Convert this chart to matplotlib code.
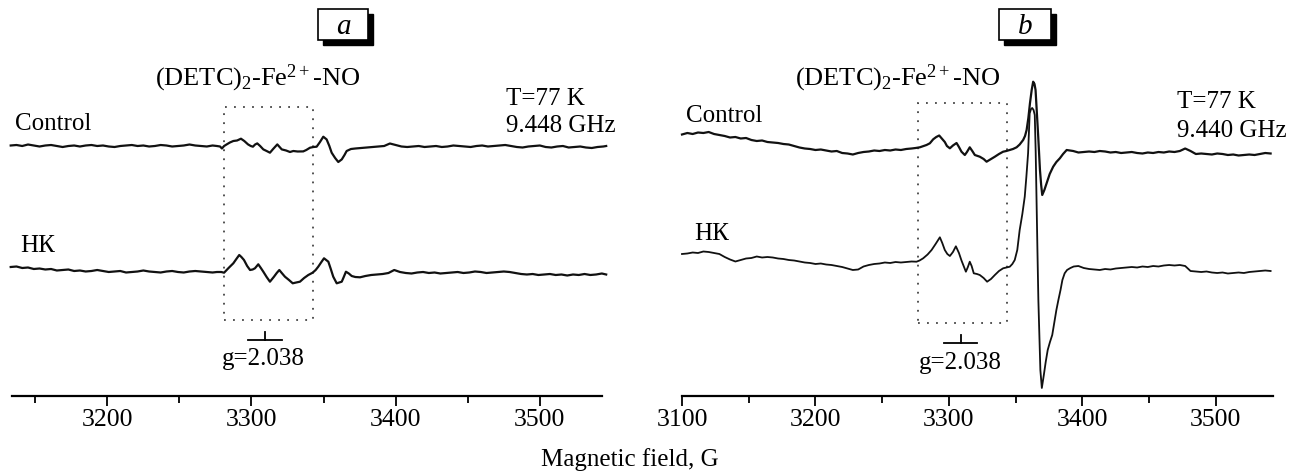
import matplotlib
matplotlib.use("Agg")
import matplotlib.pyplot as plt
from matplotlib.patches import Rectangle
from matplotlib.ticker import MultipleLocator
import numpy as np

plt.rcParams["font.family"] = ["Liberation Serif", "DejaVu Serif"]
plt.rcParams["mathtext.fontset"] = "custom"
plt.rcParams["mathtext.rm"] = "Liberation Serif"
plt.rcParams["mathtext.it"] = "Liberation Serif:italic"

# ---- digitised EPR spectra (field in G, signal in arbitrary units) ----
# panel a, control
ctrl_a_B = [3133, 3137, 3141, 3145, 3149, 3153, 3157, 3161, 3165, 3169, 3173, 3177, 3181, 3185,
            3189, 3193, 3197, 3201, 3205, 3209, 3213, 3217, 3221, 3225, 3229, 3233, 3237, 3241,
            3245, 3249, 3253, 3257, 3261, 3265, 3269, 3273, 3276,
            3278.2, 3279.5, 3281, 3282.8, 3285, 3287.4, 3290, 3292.7, 3295, 3297.6, 3299.5, 3301,
            3302.5, 3304, 3306, 3308.2, 3310.5, 3312.8, 3315, 3317.9, 3319.5, 3321, 3324, 3326.7,
            3329, 3332, 3335.9, 3338, 3340.6, 3343, 3345.2, 3347.5, 3349.8, 3352.1, 3354, 3355.6,
            3358, 3360.2, 3362.6, 3364.5, 3366, 3369, 3372,
            3376, 3380, 3384, 3388, 3392, 3396, 3400, 3404, 3408, 3412, 3416, 3420, 3424, 3428,
            3432, 3436, 3440, 3444, 3448, 3452, 3456, 3460, 3464, 3468, 3472, 3476, 3480, 3484,
            3488, 3492, 3496, 3500, 3504, 3508, 3512, 3516, 3520, 3524, 3528, 3532, 3536, 3540,
            3544, 3546]
ctrl_a_S = [0.5, 1, 0, 1.5, 0.5, -0.5, 0.5, 1, 0, -1, 0, 0.5, -0.5, 0.5,
            1, 0, 0.5, -0.5, -1, 0, 0.5, 1, 0, 0.5, -0.5, 0, 1, 0.5,
            -0.5, 0, 0.5, 1.5, 0.5, 0, -0.5, 0.5, 0,
            -0.5, -2.5, 0, 1.6, 3.5, 5, 5.5, 7.3, 5, 1.6, 0, -0.7,
            1.5, 2.6, 0, -3.4, -5, -6.7, -3, 1.6, -1, -3.4, -4.5, -6,
            -5, -5.5, -5.4, -4, -1.7, -1, -0.7, 4, 9.3, 6.6, 0, -6.7,
            -12, -16, -13.4, -9, -5, -3, -2.5,
            -2, -1.5, -1, -0.5, 0, 2.5, 1, -0.5, -1, -0.5, 0, -1, -0.5, 0,
            -1, -0.5, 0.5, 0, -0.5, -1, 0, 0.5, -0.5, 0, 0.5, 1, 0, -1,
            -1.5, -0.5, 0, 0.5, -1, -1.5, -0.5, 0, -1.5, -1, -0.5, -1.5, -2, -1,
            -0.5, 0]

# panel a, HK
hk_a_B = [3133, 3137, 3141, 3145, 3149, 3153, 3157, 3161, 3165, 3169, 3173, 3177, 3181, 3185,
          3189, 3193, 3197, 3201, 3205, 3209, 3213, 3217, 3221, 3225, 3229, 3233, 3237, 3241,
          3245, 3249, 3253, 3257, 3261, 3265, 3269, 3273, 3276,
          3279, 3281, 3283.9, 3285.5, 3287.4, 3289.5, 3291.5, 3293, 3294.8, 3297, 3299, 3300.8,
          3302.4, 3304.7, 3306.5, 3308.2, 3310.5, 3312.8, 3315.6, 3317.5, 3319.3, 3321, 3323.2,
          3326, 3328.6, 3331, 3333.6, 3336.5, 3339.4, 3342.4, 3344.5, 3346.3, 3348.5, 3350.3,
          3353.3, 3355, 3356.7, 3359.1, 3362.6, 3364, 3365.5, 3367.5, 3369.5, 3372, 3375.3,
          3379, 3383, 3387, 3391, 3395, 3399, 3403, 3407, 3411, 3415, 3419, 3423, 3427, 3431,
          3435, 3439, 3443, 3447, 3451, 3455, 3459, 3463, 3467, 3471, 3475, 3479, 3483, 3487,
          3491, 3495, 3499, 3503, 3507, 3511, 3515, 3519, 3523, 3527, 3531, 3535, 3539, 3543,
          3546]
hk_a_S = [5, 5.5, 4, 4.5, 3, 3.5, 2.5, 3, 1.5, 2, 2.5, 1, 1.5, 0.5,
          1, 2, 1, 0, 0.5, 1, -0.5, 0, 0.5, 1.5, 0.5, 0, -0.5, 0.5,
          1, 0, -0.5, 0.5, 1, 0.5, 0, -0.5, 0,
          0, -0.7, 3.7, 6, 8.7, 13, 17, 15, 12, 6, 2, 2.5,
          3.7, 7.7, 4, 0.3, -5, -9.7, -4.7, -1, 2, -1, -4.7,
          -8, -11.3, -10.5, -9.7, -6, -3, -0.7, 2, 5.3, 10, 13.7,
          10.3, 3, -4.7, -11.3, -9.7, -5, 0.3, -1.5, -4, -5, -5.3,
          -4, -3, -2.5, -2, -1, 2, 0, -1, -1.5, -0.5, 0, -1, -0.5, -1.5,
          -1, -0.5, 0, -1, -0.5, 0.5, 0, -1, -0.5, 0, 0.5, 0, -1, -2,
          -2.5, -2, -3, -2.5, -2, -3, -2.5, -3.5, -2.5, -3, -2, -3, -2.5, -1.5,
          -2.5]

# panel b, control
ctrl_b_B = [3100, 3104, 3108, 3112, 3116, 3120, 3124, 3128, 3132, 3136, 3140, 3144, 3148, 3152,
            3156, 3160, 3164, 3168, 3172, 3176, 3180, 3184, 3188, 3192, 3196, 3200, 3204, 3208,
            3212, 3216, 3220, 3224, 3228, 3232, 3236, 3240, 3244, 3248, 3252, 3256, 3260, 3264,
            3268, 3272,
            3275, 3278.2, 3281, 3283.2, 3285.7, 3288.2, 3290.5, 3292.7, 3295, 3296.9, 3298.5,
            3300.7, 3303, 3305.7, 3307.5, 3309.4, 3311.9, 3313.5, 3315.6, 3317.5, 3319.4, 3323.1,
            3326, 3328.2, 3331, 3334.4, 3337.5, 3340.6, 3343, 3345.6, 3348, 3350.7, 3353, 3355.6,
            3357, 3358.2, 3359.5, 3360.7, 3362, 3363.1, 3364.1, 3364.9, 3366, 3366.9, 3368.2,
            3369.1, 3369.9, 3371.5, 3373.2, 3375.5, 3378.1, 3380.5, 3383.1, 3385.5, 3388.2,
            3390.5, 3393.1,
            3397, 3401, 3405, 3409, 3413, 3417, 3421, 3425, 3429, 3433, 3437, 3441, 3445, 3449,
            3453, 3457, 3461, 3465, 3469, 3473, 3477, 3481, 3485, 3489, 3493, 3497, 3501, 3505,
            3509, 3513, 3517, 3521, 3525, 3529, 3533, 3537, 3541]
ctrl_b_S = [15.5, 17, 16, 17.5, 17, 18, 16, 15, 14, 12.5, 13, 11.5, 12, 10,
            9, 9.5, 8, 7.5, 7, 6, 5.5, 4, 2.5, 1.5, 1, 0, 0.5, -0.5,
            -1.5, -1, -3, -3.5, -4.5, -3, -2, -1.5, -0.5, -1, 0, -0.5, 0.5, 0,
            1, 1.5,
            2, 2.7, 4, 5, 6.7, 10.7, 13, 14.5, 11, 8, 4,
            1.7, 4.5, 7, 3, -1.7, -5, -2, 2.7, -1, -5, -6.7,
            -9, -11.7, -9.5, -6.7, -4, -1.7, -1, 0, 1, 2.7, 5.5, 10,
            14, 20, 32, 46.7, 60, 68.3, 66, 60, 35, 13.3, -20,
            -35, -45, -40, -33.3, -24, -16.7, -12, -8.3, -4, 0,
            -0.5, -1,
            -2.5, -2, -1.5, -2, -1, -1.5, -2.5, -2, -3, -2.5, -2, -3, -3.5, -2.5,
            -3, -2, -2.5, -1.5, -2, -1, 1.5, -1, -4, -3.5, -4, -4.5, -3.5, -4,
            -5, -4.5, -5.5, -5, -4.5, -5, -4, -3, -3.5]

# panel b, HK
hk_b_B = [3100, 3104, 3108, 3112, 3116, 3120, 3124, 3128, 3132, 3136, 3140, 3144, 3148, 3152,
          3156, 3160, 3164, 3168, 3172, 3176, 3180, 3184, 3188, 3192, 3196, 3200, 3204, 3208,
          3212, 3216, 3220, 3224, 3228, 3232, 3236, 3240, 3244, 3248, 3252, 3256, 3260, 3264,
          3268, 3272,
          3275.7, 3278, 3280.7, 3284, 3287, 3290, 3293.2, 3295, 3296.9, 3298.8, 3300.7, 3303,
          3305.2, 3307.5, 3309.4, 3311, 3312.7, 3314.2, 3315.6, 3317, 3318.6, 3321, 3323.1, 3326,
          3328.6, 3331.5, 3334.4, 3337.5, 3340.6, 3343, 3345.6, 3347.5, 3349.3, 3351.2, 3353,
          3355, 3356.8, 3358, 3359.3, 3360.5, 3361.5, 3362.4, 3363.4, 3364.3, 3365, 3365.6,
          3366.3, 3367, 3367.8, 3368.5, 3369.6, 3371.1, 3372.5, 3374, 3375.7, 3377.4, 3379,
          3380.5, 3382, 3383.6, 3385, 3386.7, 3388.5, 3391, 3393.5,
          3397, 3401, 3405, 3409, 3413, 3417, 3421, 3425, 3429, 3433, 3437, 3441, 3445, 3449,
          3453, 3457, 3461, 3465, 3469, 3473, 3477, 3481, 3485, 3489, 3493, 3497, 3501, 3505,
          3509, 3513, 3517, 3521, 3525, 3529, 3533, 3537, 3541]
hk_b_S = [8, 8.5, 9.5, 9, 10.5, 10, 9, 8, 5, 2.5, 0.5, 2, 3.5, 4,
          5.5, 4.5, 5, 4.5, 3.5, 3, 2, 1.5, 0.5, -0.5, -1, -2, -1.5, -2.5,
          -3, -4, -5, -6.5, -8, -7.5, -4.5, -3, -2, -1.5, -0.5, -1, 0, -0.5,
          0, 0.5,
          0.3, 1.5, 3.7, 7.5, 12, 18, 24.7, 19, 12, 8, 6, 10,
          15.7, 9, 1.5, -4, -9.7, -5, 0.3, -4, -11.3, -12, -13, -16,
          -19.7, -17, -13, -9, -6.3, -5.5, -4.7, -2, 2, 12, 32,
          48, 65.3, 85, 108.7, 148.7, 153, 154, 152, 147, 110, 62,
          12, -38, -75, -108, -126, -113, -100, -88, -80, -73, -60,
          -48, -38, -28, -18, -11.3, -8, -6, -4.5,
          -4, -6, -7, -7.5, -8, -7, -7.5, -6.5, -6, -5.5, -5, -5.5, -4.5, -5,
          -4, -4.5, -3.5, -3, -3.5, -3, -4, -9, -9.5, -10, -9.5, -10.5, -11, -10.5,
          -11.5, -11, -10.5, -11, -10, -9.5, -9, -8.5, -9]

# vertical stacking of the traces
offsets = {"ctrl_a": 250, "hk_a": 124, "ctrl_b": 246, "hk_b": 134}

major_ticks_a = [3200, 3300, 3400, 3500]
major_ticks_b = [3100, 3200, 3300, 3400, 3500]
freq_a = "9.448 GHz"
freq_b = "9.440 GHz"
temp_label = "T=77 K"
g_label = "g=2.038"
complex_label = r"(DETC)$_{\mathrm{2}}$-Fe$^{\mathrm{2+}}$-NO"

W, H = 1293, 471
fig = plt.figure(figsize=(W / 100, H / 100), dpi=100)
ax_a = fig.add_axes([12 / W, 75 / H, 590 / W, 396 / H])
ax_b = fig.add_axes([682 / W, 75 / H, 591 / W, 396 / H])

FS = 18


def style_axis(ax, xlim, majors):
    ax.set_xlim(*xlim)
    ax.set_ylim(0, 396)
    for s in ["top", "left", "right"]:
        ax.spines[s].set_visible(False)
    ax.spines["bottom"].set_linewidth(1.6)
    ax.set_yticks([])
    ax.set_xticks(majors)
    ax.xaxis.set_minor_locator(MultipleLocator(50))
    ax.tick_params(axis="x", which="major", direction="out", length=7, width=1.3,
                   labelsize=18.5, pad=2)
    ax.tick_params(axis="x", which="minor", direction="out", length=5, width=1.3)
    ax.patch.set_visible(False)


style_axis(ax_a, (3133.9, 3543.1), major_ticks_a)
style_axis(ax_b, (3100, 3542.8), major_ticks_b)

ax_a.plot(ctrl_a_B, np.array(ctrl_a_S) + offsets["ctrl_a"], color="#111111", lw=1.6, clip_on=False)
ax_a.plot(hk_a_B, np.array(hk_a_S) + offsets["hk_a"], color="#111111", lw=1.6, clip_on=False)
ax_b.plot(ctrl_b_B, np.array(ctrl_b_S) + offsets["ctrl_b"], color="#111111", lw=1.6, clip_on=False)
ax_b.plot(hk_b_B, np.array(hk_b_S) + offsets["hk_b"], color="#111111", lw=1.3, clip_on=False)

# dotted boxes around the (DETC)2-Fe-NO signal
box_style = dict(fill=False, edgecolor="#444444", lw=1.3, linestyle=(0, (1, 4)))
ax_a.add_patch(Rectangle((3281, 76), 61.4, 212.7, **box_style))
ax_b.add_patch(Rectangle((3276.9, 72.7), 66.7, 220, **box_style))

# g-marker
ax_a.plot([3297.6, 3321.2], [56, 56], color="k", lw=1.3)
ax_a.plot([3309.4, 3309.4], [56, 64], color="k", lw=1.3)
ax_a.text(3308, 31, g_label, fontsize=FS, ha="center", va="baseline")
ax_b.plot([3296.2, 3321.2], [53.3, 53.3], color="k", lw=1.3)
ax_b.plot([3308.7, 3308.7], [53.3, 61], color="k", lw=1.3)
ax_b.text(3308.3, 27, g_label, fontsize=FS, ha="center", va="baseline")

# labels
ax_a.text(3136.3, 266, "Control", fontsize=FS, ha="left", va="baseline")
ax_a.text(3139.5, 144, "НК", fontsize=FS, ha="left", va="baseline")
ax_a.text(3304.5, 311, complex_label, fontsize=19, ha="center", va="baseline")
ax_a.text(3476.5, 291, temp_label, fontsize=FS, ha="left", va="baseline")
ax_a.text(3476.5, 264, freq_a, fontsize=FS, ha="left", va="baseline")

ax_b.text(3102.8, 274, "Control", fontsize=FS, ha="left", va="baseline")
ax_b.text(3109.3, 156, "НК", fontsize=FS, ha="left", va="baseline")
ax_b.text(3261.8, 311, complex_label, fontsize=19, ha="center", va="baseline")
ax_b.text(3470.8, 288, temp_label, fontsize=FS, ha="left", va="baseline")
ax_b.text(3470.8, 259, freq_b, fontsize=FS, ha="left", va="baseline")

fig.text(630 / W, 1 - 466 / H, "Magnetic field, G", fontsize=FS, ha="center", va="baseline")


# panel letters in shadowed boxes
def letter_box(x0, y0, w, h, letter):
    sh = 5
    fig.add_artist(Rectangle(((x0 + sh) / W, 1 - (y0 + h + sh) / H), w / W, h / H,
                             transform=fig.transFigure, facecolor="black", edgecolor="black"))
    fig.add_artist(Rectangle((x0 / W, 1 - (y0 + h) / H), w / W, h / H,
                             transform=fig.transFigure, facecolor="white", edgecolor="black", lw=1.2))
    fig.text((x0 + w / 2) / W, 1 - (y0 + h / 2 + 2) / H, letter, fontsize=21, style="italic",
             ha="center", va="center")


letter_box(318, 9, 50, 31, "a")
letter_box(999, 9, 52, 31, "b")

fig.savefig("out.png", dpi=100)
